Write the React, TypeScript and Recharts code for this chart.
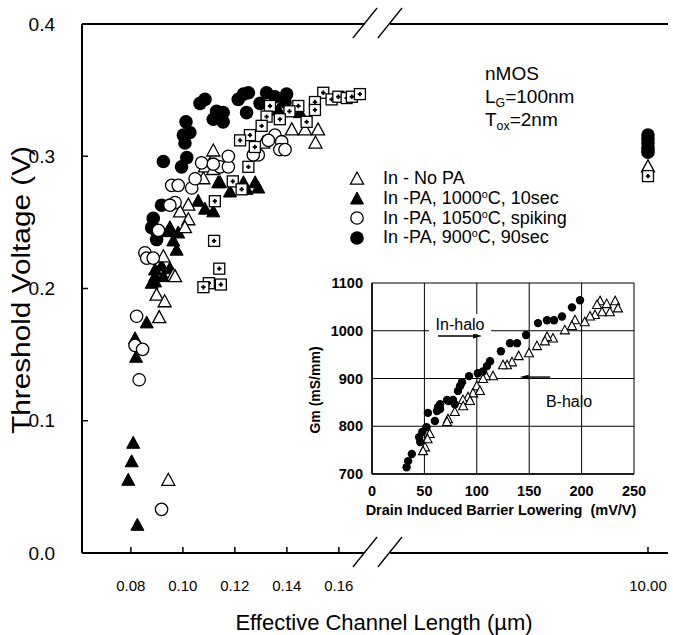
import React from 'react';
import { ScatterChart, Scatter, XAxis, YAxis, ReferenceLine, ReferenceDot, CartesianGrid } from 'recharts';

const FONT = '"Liberation Sans", Arial, Helvetica, sans-serif';

// ---------- main chart data: [effective channel length (µm), threshold voltage (V)] ----------
const inNoPA: [number, number][] = [
  [0.1117, 0.304], [0.1104, 0.294], [0.1079, 0.283], [0.1021, 0.263], [0.0989, 0.258], [0.1021, 0.252],
  [0.1008, 0.246], [0.0925, 0.224], [0.0963, 0.210], [0.0970, 0.209], [0.0899, 0.195], [0.0930, 0.190],
  [0.0909, 0.178], [0.0944, 0.055], [0.1419, 0.320], [0.1470, 0.320], [0.1520, 0.320], [0.1510, 0.310],
  [0.1309, 0.310], [0.1085, 0.292], [0.1117, 0.290], [10.0, 0.292],
];
const inPA1000: [number, number][] = [
  [0.1136, 0.280], [0.1059, 0.266], [0.1085, 0.260], [0.1117, 0.258], [0.0950, 0.246], [0.0982, 0.242],
  [0.0963, 0.236], [0.0976, 0.229], [0.0918, 0.217], [0.0950, 0.215], [0.0893, 0.209], [0.0925, 0.209],
  [0.0880, 0.204], [0.0893, 0.214], [0.0893, 0.205], [0.0861, 0.174], [0.0816, 0.162], [0.0820, 0.148],
  [0.0809, 0.083], [0.0803, 0.069], [0.0790, 0.055], [0.0825, 0.021], [0.1143, 0.280], [0.1181, 0.273],
  [0.1233, 0.280], [0.1278, 0.280], [0.1245, 0.275], [0.1290, 0.276], [0.1367, 0.335], [0.1450, 0.333],
  [0.0944, 0.243],
];
const inPA1050: [number, number][] = [
  [0.0957, 0.278], [0.0982, 0.278], [0.1034, 0.276], [0.1047, 0.283], [0.1072, 0.295], [0.1143, 0.292],
  [0.1175, 0.292], [0.1175, 0.300], [0.1117, 0.294], [0.0970, 0.265], [0.0950, 0.263], [0.0906, 0.244],
  [0.0854, 0.227], [0.0861, 0.223], [0.0886, 0.223], [0.0822, 0.179], [0.0816, 0.157], [0.0845, 0.154],
  [0.0832, 0.131], [0.0918, 0.033], [0.1354, 0.316], [0.1380, 0.311], [0.1373, 0.305], [0.1393, 0.305],
  [0.1329, 0.312], [0.1290, 0.301], [0.1271, 0.301],
];
const inPA900: [number, number][] = [
  [0.1008, 0.310], [0.1015, 0.299], [0.0925, 0.296], [0.0995, 0.292], [0.0918, 0.263], [0.0886, 0.253],
  [0.0880, 0.246], [0.0899, 0.243], [0.0899, 0.237], [0.1012, 0.326], [0.1002, 0.316], [0.1027, 0.318],
  [0.1066, 0.340], [0.1085, 0.343], [0.1130, 0.334], [0.1155, 0.333], [0.1117, 0.328], [0.1155, 0.326],
  [0.1233, 0.347], [0.1252, 0.348], [0.1213, 0.343], [0.1245, 0.333], [0.1322, 0.348], [0.1354, 0.345],
  [0.1399, 0.347], [0.1297, 0.340], [0.1393, 0.341],
  [10.0, 0.316], [10.0, 0.313], [10.0, 0.310], [10.0, 0.306], [10.0, 0.303],
];
const unlabelledSquares: [number, number][] = [
  [0.1540, 0.348], [0.1572, 0.343], [0.1598, 0.345], [0.1630, 0.344], [0.1650, 0.345], [0.1681, 0.347],
  [0.1508, 0.341], [0.1508, 0.335], [0.1476, 0.326], [0.1444, 0.338], [0.1410, 0.334], [0.1373, 0.328],
  [0.1335, 0.338], [0.1322, 0.330], [0.1303, 0.323], [0.1258, 0.316], [0.1220, 0.312], [0.1277, 0.307],
  [0.1252, 0.292], [0.1192, 0.281], [0.1226, 0.275], [0.1123, 0.266], [0.1120, 0.236], [0.1140, 0.215],
  [0.1100, 0.204], [0.1146, 0.203], [0.1079, 0.201], [10.0, 0.285],
];

const yTicks = [0, 0.1, 0.2, 0.3, 0.4];
const xTickLabels = ['0.08', '0.10', '0.12', '0.14', '0.16', '10.00'];
const legendLabels = ['In - No PA', 'In -PA, 1000°C, 10sec', 'In -PA, 1050°C, spiking', 'In -PA, 900°C, 90sec'];

// ---------- inset data: [DIBL (mV/V), Gm (mS/mm)] ----------
const inHalo: [number, number][] = [
  [198.5, 1064], [190.8, 1049], [181.3, 1030], [173.7, 1022], [167, 1022], [158.4, 1016], [147, 991],
  [138.4, 974], [131.7, 974], [123, 957], [112.6, 936], [109.7, 926], [106, 915], [101, 911], [92.6, 905],
  [85.9, 892], [84, 884], [82, 874], [77.3, 855], [71.6, 855], [73, 853], [79, 846], [65, 846], [63, 840],
  [65, 836], [62, 832], [60, 811], [53.4, 828], [52, 798], [48, 788], [45, 777], [46, 767], [38, 742],
  [34.5, 727], [33, 714],
];
const bHalo: [number, number][] = [
  [217.6, 1062], [224, 1056], [232, 1062], [234.7, 1047], [214.7, 1054], [219.5, 1039], [227, 1039],
  [212.8, 1033], [208, 1030], [203, 1018], [193.7, 1022], [190.8, 1010], [184, 1001], [172.7, 984],
  [167, 987], [165, 978], [157.4, 968], [149.8, 953], [140, 947], [133.6, 934], [128.8, 928], [125, 928],
  [115.5, 905], [108.8, 905], [106, 899], [100, 884], [96.4, 869], [91.6, 861], [86.8, 855], [103, 874],
  [93.5, 853], [87, 842], [79, 830], [72.5, 815], [71.6, 809], [55, 784], [53, 773], [50.6, 756], [48.7, 748],
];
const insetXTicks = [0, 50, 100, 150, 200, 250];
const insetYTicks = [700, 800, 900, 1000, 1100];

// ---------- broken x axis ----------
const X_MIN = 0.0612;
const X_MAX = 0.2866;
const LONG_POS = 0.2789; // axis position used for the long-channel (10.00 µm) devices
const toAxis = (v: number) => (v >= 1 ? LONG_POS : v);
const pts = (arr: [number, number][]) => arr.map(([x, y]) => ({ x: toAxis(x), y }));
const rawPts = (arr: [number, number][]) => arr.map(([x, y]) => ({ x, y }));
const xTicks = xTickLabels.map((s) => toAxis(parseFloat(s)));

// ---------- marker shapes ----------
const tri = (cx: number, cy: number, w: number, h: number) =>
  `${cx},${cy - h * 0.58} ${cx - w / 2},${cy + h * 0.42} ${cx + w / 2},${cy + h * 0.42}`;

const OpenTri = (p: any) => <polygon points={tri(p.cx, p.cy, 13, 12)} fill="#fff" stroke="#000" strokeWidth={1.3} />;
const FilledTri = (p: any) => <polygon points={tri(p.cx, p.cy, 13, 12)} fill="#000" stroke="#000" strokeWidth={1} />;
const OpenCircle = (p: any) => <circle cx={p.cx} cy={p.cy} r={6.2} fill="#fff" stroke="#000" strokeWidth={1.3} />;
const FilledCircle = (p: any) => <circle cx={p.cx} cy={p.cy} r={6.8} fill="#000" />;
const SquarePlus = (p: any) => (
  <g>
    <rect x={p.cx - 5.5} y={p.cy - 5.5} width={11} height={11} fill="#fff" stroke="#000" strokeWidth={1.3} />
    <path d={`M${p.cx - 2.2},${p.cy} H${p.cx + 2.2} M${p.cx},${p.cy - 2.2} V${p.cy + 2.2}`} stroke="#000" strokeWidth={1.8} />
  </g>
);
const SmallDot = (p: any) => <circle cx={p.cx} cy={p.cy} r={4.2} fill="#000" />;
const SmallTri = (p: any) => <polygon points={tri(p.cx, p.cy, 9, 8.5)} fill="#fff" stroke="#000" strokeWidth={1.1} />;

const Arrow = (p: any) => {
  const x1 = +p.x1, y1 = +p.y1, x2 = +p.x2, y2 = +p.y2;
  const dx = x2 - x1, dy = y2 - y1;
  const len = Math.hypot(dx, dy) || 1;
  const ux = dx / len, uy = dy / len;
  const hl = 9, hw = 2.4;
  const bx = x2 - ux * hl, by = y2 - uy * hl;
  return (
    <g>
      <line x1={x1} y1={y1} x2={bx} y2={by} stroke="#000" strokeWidth={1.4} />
      <polygon points={`${x2},${y2} ${bx - uy * hw},${by + ux * hw} ${bx + uy * hw},${by - ux * hw}`} fill="#000" />
    </g>
  );
};

const TextMark = (text: string, bg: boolean) => (p: any) => (
  <g>
    {bg && <rect x={p.cx - 31} y={p.cy - 10} width={62} height={20} fill="#fff" />}
    <text x={p.cx} y={p.cy} textAnchor="middle" dominantBaseline="central" fontSize={16} fontFamily={FONT} fill="#000">
      {text}
    </text>
  </g>
);

const withDegree = (s: string) => {
  const parts = s.split('°');
  return parts.map((part, i) => (
    <React.Fragment key={i}>
      {i > 0 && <sup style={{ fontSize: '0.6em', verticalAlign: '0.55em', lineHeight: 0 }}>o</sup>}
      {part}
    </React.Fragment>
  ));
};

const legendShapes = [OpenTri, FilledTri, OpenCircle, FilledCircle];

const axisStroke = { stroke: '#000', strokeWidth: 2 };
const breakSeg = (x1: number, x2: number, y1: number, y2: number) => [{ x: x1, y: y1 }, { x: x2, y: y2 }];

export default function App() {
  return (
    <div style={{ position: 'absolute', left: 0, top: 0, width: 673, height: 635, background: '#fff', fontFamily: FONT }}>
      <ScatterChart width={673} height={635} margin={{ top: 24, right: 5, bottom: 0, left: 0 }}>
        <XAxis
          type="number"
          dataKey="x"
          domain={[X_MIN, X_MAX]}
          allowDataOverflow
          ticks={xTicks}
          tickFormatter={(_v: any, i: number) => xTickLabels[i]}
          axisLine={false}
          tickLine={{ stroke: '#000', strokeWidth: 1.5 }}
          tickSize={-6}
          tickMargin={33}
          height={82}
          tick={{ fill: '#000', fontSize: 15, fontFamily: FONT }}
          label={{
            content: () => (
              <text x={384} y={622} textAnchor="middle" dominantBaseline="central" fontSize={22} fontFamily={FONT} fill="#000">
                Effective Channel Length (µm)
              </text>
            ),
          }}
        />
        <YAxis
          type="number"
          dataKey="y"
          domain={[0, 0.4]}
          ticks={yTicks}
          tickFormatter={(v: number) => v.toFixed(1)}
          width={82}
          axisLine={axisStroke}
          tickLine={{ stroke: '#000', strokeWidth: 1.5 }}
          tickSize={-6}
          tickMargin={33}
          tick={{ fill: '#000', fontSize: 19, fontFamily: FONT }}
          label={{
            content: () => (
              <text x={21} y={290} transform="rotate(-90 21 290)" textAnchor="middle" dominantBaseline="central" fontSize={25} fontFamily={FONT} fill="#000" textLength={288} lengthAdjust="spacingAndGlyphs">
                Threshold Voltage (V)
              </text>
            ),
          }}
        />
        {/* axis lines with the break */}
        <ReferenceLine segment={breakSeg(X_MIN, 0.170, 0, 0)} stroke="#000" strokeWidth={2} ifOverflow="visible" />
        <ReferenceLine segment={breakSeg(0.1797, X_MAX, 0, 0)} stroke="#000" strokeWidth={2} ifOverflow="visible" />
        <ReferenceLine segment={breakSeg(X_MIN, 0.170, 0.4, 0.4)} stroke="#000" strokeWidth={2} ifOverflow="visible" />
        <ReferenceLine segment={breakSeg(0.1797, X_MAX, 0.4, 0.4)} stroke="#000" strokeWidth={2} ifOverflow="visible" />
        <ReferenceLine segment={breakSeg(0.1654, 0.1747, -0.0106, 0.0121)} stroke="#000" strokeWidth={1.3} ifOverflow="visible" />
        <ReferenceLine segment={breakSeg(0.1750, 0.1843, -0.0106, 0.0121)} stroke="#000" strokeWidth={1.3} ifOverflow="visible" />
        <ReferenceLine segment={breakSeg(0.1654, 0.1747, 0.3894, 0.4121)} stroke="#000" strokeWidth={1.3} ifOverflow="visible" />
        <ReferenceLine segment={breakSeg(0.1750, 0.1843, 0.3894, 0.4121)} stroke="#000" strokeWidth={1.3} ifOverflow="visible" />

        <Scatter name="In -PA, 900°C, 90sec" data={pts(inPA900)} shape={FilledCircle} isAnimationActive={false} />
        <Scatter name="In -PA, 1000°C, 10sec" data={pts(inPA1000)} shape={FilledTri} isAnimationActive={false} />
        <Scatter name="In - No PA" data={pts(inNoPA)} shape={OpenTri} isAnimationActive={false} />
        <Scatter name="In -PA, 1050°C, spiking" data={pts(inPA1050)} shape={OpenCircle} isAnimationActive={false} />
        <Scatter name="unlabelled" data={pts(unlabelledSquares)} shape={SquarePlus} isAnimationActive={false} />
      </ScatterChart>

      {/* device annotation */}
      <div style={{ position: 'absolute', left: 485, top: 62, fontSize: 19, lineHeight: '23px', color: '#000' }}>
        <div>nMOS</div>
        <div>
          L<sub style={{ fontSize: '0.65em', verticalAlign: '-0.3em', lineHeight: 0 }}>G</sub>=100nm
        </div>
        <div>
          T<sub style={{ fontSize: '0.65em', verticalAlign: '-0.3em', lineHeight: 0 }}>ox</sub>=2nm
        </div>
      </div>

      {/* legend */}
      <div style={{ position: 'absolute', left: 348, top: 169, fontSize: 18, color: '#000' }}>
        {legendLabels.map((lab, i) => {
          const Shape = legendShapes[i];
          return (
            <div key={lab} style={{ display: 'flex', alignItems: 'center', height: 19.7, whiteSpace: 'nowrap' }}>
              <svg width={18} height={18} style={{ marginRight: 17 }}>
                <Shape cx={9} cy={9} />
              </svg>
              <span>{withDegree(lab)}</span>
            </div>
          );
        })}
      </div>

      {/* inset */}
      <div style={{ position: 'absolute', left: 300, top: 270 }}>
        <ScatterChart width={350} height={255} margin={{ top: 13, right: 16, bottom: 0, left: 0 }}>
          <CartesianGrid stroke="#000" strokeWidth={1} />
          <XAxis
            type="number"
            dataKey="x"
            domain={[0, 250]}
            ticks={insetXTicks}
            height={51}
            axisLine={{ stroke: '#000', strokeWidth: 1.5 }}
            tickLine={false}
            tickSize={0}
            tickMargin={12}
            tick={{ fill: '#000', fontSize: 14.5, fontWeight: 'bold', fontFamily: FONT }}
            label={{
              content: () => (
                <text x={201} y={240} textAnchor="middle" dominantBaseline="central" fontSize={14.5} fontWeight="bold" fontFamily={FONT} fill="#000" style={{ whiteSpace: 'pre' }}>
                  {'Drain Induced Barrier Lowering  (mV/V)'}
                </text>
              ),
            }}
          />
          <YAxis
            type="number"
            dataKey="y"
            domain={[700, 1100]}
            ticks={insetYTicks}
            width={72}
            axisLine={{ stroke: '#000', strokeWidth: 1.5 }}
            tickLine={false}
            tickSize={0}
            tickMargin={9}
            tick={{ fill: '#000', fontSize: 14.5, fontWeight: 'bold', fontFamily: FONT }}
            label={{
              content: () => (
                <text x={15} y={120} transform="rotate(-90 15 120)" textAnchor="middle" dominantBaseline="central" fontSize={14} fontWeight="bold" fontFamily={FONT} fill="#000">
                  Gm (mS/mm)
                </text>
              ),
            }}
          />
          <ReferenceDot x={84} y={1014} r={0} shape={TextMark('In-halo', true)} ifOverflow="visible" />
          <ReferenceDot x={188} y={851} r={0} shape={TextMark('B-halo', false)} ifOverflow="visible" />
          <ReferenceLine segment={[{ x: 63, y: 989 }, { x: 105, y: 989 }]} shape={Arrow} ifOverflow="visible" />
          <ReferenceLine segment={[{ x: 170, y: 903 }, { x: 141, y: 903 }]} shape={Arrow} ifOverflow="visible" />
          <Scatter name="B-halo" data={rawPts(bHalo)} shape={SmallTri} isAnimationActive={false} />
          <Scatter name="In-halo" data={rawPts(inHalo)} shape={SmallDot} isAnimationActive={false} />
        </ScatterChart>
      </div>
    </div>
  );
}
